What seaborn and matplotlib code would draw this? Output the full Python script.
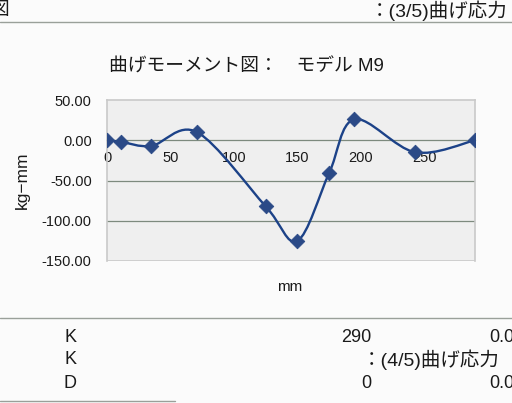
#!/usr/bin/env python3
"""
Bending moment diagram (model M9) on a scanned spreadsheet page.
"""

import numpy as np
import pandas as pd
import matplotlib
matplotlib.use('Agg')
import matplotlib.pyplot as plt
import seaborn as sns
from matplotlib.path import Path
from matplotlib.patches import PathPatch
from matplotlib.lines import Line2D

# Data
position_mm = [0, 11, 35, 71, 125, 150, 175, 195, 243, 290]
moment_kgmm = [0, -2, -7, 10, -82, -125, -41, 26, -15, 0]

x_ticks = [0, 50, 100, 150, 200, 250]
y_ticks = [50, 0, -50, -100, -150]
y_tick_labels = ['50.00', '0.00', '-50.00', '-100.00', '-150.00']

title_text = '曲げモーメント図：　モデル M9'
x_label = 'mm'
y_label = 'kg−mm'

table_rows = [
    ('K', '290', '0.0'),
    ('K', '', ''),
    ('D', '0', '0.0'),
]

LINE_COLOR = '#1c4288'
MARKER_COLOR = '#2b4a87'
GRID_COLOR = '#7d8a7e'
FRAME_COLOR = '#c9c9c9'
TEXT_COLOR = '#1a1a1a'


def smooth_path(xs, ys):
    """Bezier path through the points, like a spreadsheet 'smoothed line'"""
    pts = np.column_stack([xs, ys]).astype(float)
    padded = np.vstack([pts[0], pts, pts[-1]])
    verts = [pts[0]]
    codes = [Path.MOVETO]
    for i in range(len(pts) - 1):
        p0, p1, p2, p3 = padded[i], padded[i + 1], padded[i + 2], padded[i + 3]
        c1 = p1 + (p2 - p0) / 6.0
        c2 = p2 - (p3 - p1) / 6.0
        verts += [c1, c2, p2]
        codes += [Path.CURVE4] * 3
    return Path(verts, codes)


def main():
    sns.set_theme(style='white')
    plt.rcParams['font.family'] = ['Liberation Sans', 'Noto Sans CJK JP', 'DejaVu Sans']

    df = pd.DataFrame({'mm': position_mm, 'moment': moment_kgmm})

    W, H = 512, 403
    fig = plt.figure(figsize=(W / 100, H / 100), dpi=100)
    fig.patch.set_facecolor('#fbfbfb')

    ax = fig.add_axes([107 / W, 1 - 261 / H, 368 / W, 161 / H])
    ax.set_facecolor('#efefef')

    # smoothed line + diamond markers
    ax.add_patch(PathPatch(smooth_path(df['mm'], df['moment']),
                           facecolor='none', edgecolor=LINE_COLOR, lw=1.7, zorder=3))
    sns.scatterplot(data=df, x='mm', y='moment', marker='D', s=55,
                    color=MARKER_COLOR, edgecolor=MARKER_COLOR, ax=ax, zorder=4)

    ax.set_xlim(0, 290)
    ax.set_ylim(-150, 50)

    for yv in [-50, -100]:
        ax.axhline(yv, color=GRID_COLOR, lw=0.9, zorder=1)
    ax.axhline(-150, color=FRAME_COLOR, lw=1.2, zorder=1)

    for side in ['left', 'right', 'top']:
        ax.spines[side].set_color(FRAME_COLOR)
        ax.spines[side].set_linewidth(1.2)
    ax.spines['bottom'].set_position(('data', 0))
    ax.spines['bottom'].set_color(GRID_COLOR)
    ax.spines['bottom'].set_linewidth(0.9)

    ax.set_xticks(x_ticks)
    ax.set_xticklabels([str(v) for v in x_ticks])
    ax.set_yticks(y_ticks)
    ax.set_yticklabels(y_tick_labels)
    ax.tick_params(axis='x', direction='in', length=4, width=0.8,
                   color=GRID_COLOR, pad=8, labelsize=10.5, labelcolor=TEXT_COLOR)
    ax.tick_params(axis='y', length=0, pad=11, labelsize=10.5, labelcolor=TEXT_COLOR)
    ax.set_xlabel('')
    ax.set_ylabel('')

    # chart texts
    fig.text(246 / W, 1 - 67 / H, title_text, ha='center', va='center',
             fontsize=13.5, color=TEXT_COLOR)
    fig.text(290 / W, 1 - 287 / H, x_label, ha='center', va='center',
             fontsize=11, color=TEXT_COLOR)
    fig.text(22 / W, 1 - 180 / H, y_label, ha='center', va='center',
             rotation=90, fontsize=12.5, color=TEXT_COLOR)

    # page around the chart
    fig.add_artist(Line2D([0, 1], [1 - 22 / H, 1 - 22 / H], transform=fig.transFigure,
                          color='#9aa09a', lw=1.0))
    fig.text(9 / W, 1 - 11 / H, '図', ha='right', va='center', fontsize=13.5, color=TEXT_COLOR)
    fig.text(370 / W, 1 - 11 / H, '：(3/5)曲げ応力', ha='left', va='center',
             fontsize=14, color=TEXT_COLOR)

    fig.add_artist(Line2D([0, 1], [1 - 318 / H, 1 - 318 / H], transform=fig.transFigure,
                          color='#9aa09a', lw=1.0))
    fig.add_artist(Line2D([0, 175 / W], [1 - 401 / H, 1 - 401 / H], transform=fig.transFigure,
                          color='#9aa09a', lw=1.0))
    row_y = [338, 360, 383]
    for (lab, val, val2), yy in zip(table_rows, row_y):
        fig.text(70 / W, 1 - yy / H, lab, ha='center', va='center', fontsize=13, color=TEXT_COLOR)
        if val:
            fig.text(371 / W, 1 - yy / H, val, ha='right', va='center', fontsize=13, color=TEXT_COLOR)
        if val2:
            fig.text(489 / W, 1 - yy / H, val2, ha='left', va='center', fontsize=13, color=TEXT_COLOR)
    fig.text(362 / W, 1 - 360 / H, '：(4/5)曲げ応力', ha='left', va='center',
             fontsize=14, color=TEXT_COLOR)

    fig.savefig('out.png', dpi=100)
    plt.close(fig)


if __name__ == "__main__":
    main()
